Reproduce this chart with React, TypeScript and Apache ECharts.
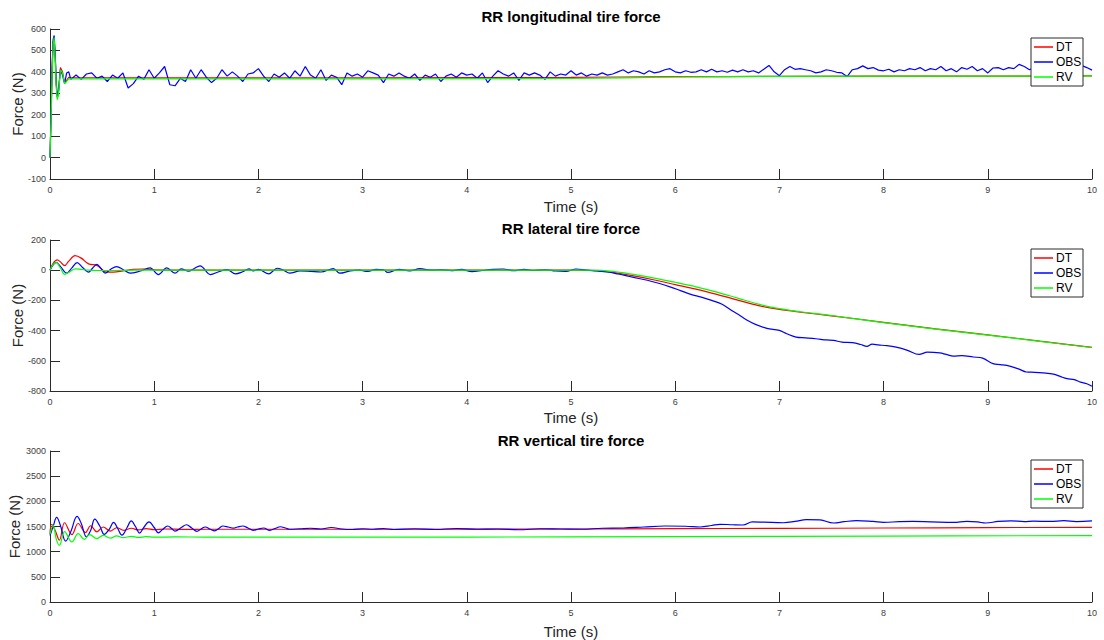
import React, { useEffect, useRef } from "react";
import * as echarts from "echarts";

// ---------- helpers ----------
// evenly spaced sample instants (s)
const grid = (t0: number, dt: number, n: number): number[] =>
  Array.from({ length: n }, (_, i) => Math.round((t0 + i * dt) * 1000) / 1000);
const zip = (ts: number[], vs: number[]) => ts.map((t, i) => [t, vs[i]]);

// ---------- shared ----------
const SERIES_NAMES = ["DT", "OBS", "RV"];
const SERIES_COLORS = ["#ff0000", "#0000ff", "#00ff00"];
const TIME_TICKS = [0, 1, 2, 3, 4, 5, 6, 7, 8, 9, 10];

// ---------- RR longitudinal tire force ----------
const longHeadTime = [0, 0.01, 0.02, 0.03, 0.04, 0.05, 0.06, 0.07, 0.08, 0.1, 0.12, 0.14, 0.16, 0.18];
const longDTHead = [0, 180, 400, 540, 555, 470, 340, 280, 300, 420, 400, 350, 360, 375];
const longRVHead = [0, 170, 390, 530, 560, 460, 330, 270, 290, 410, 395, 345, 355, 368];
const longOBSHead = [0, 200, 420, 550, 570, 480, 350, 285, 300, 410, 385, 345, 395, 400];
const longBodyTime = [0.2, 1, 2, 3, 4, 5, 5.5, 6, 6.5, 7, 8, 9, 10];
const longDTBody = [373, 372, 372, 372, 373, 374, 376, 378, 378, 379, 380, 380, 381];
const longRVBody = [367, 367, 367, 367, 368, 369, 372, 376, 378, 379, 380, 380, 381];
const longOBSBodyTime = grid(0.2, 0.05, 197);
const longOBSBody = [
  365, 385, 365, 390, 395, 370, 380, 355, 385, 370, 395, 325, 345, 380, 365, 410, 370, 395, 425, 340,
  335, 370, 355, 410, 370, 410, 375, 350, 370, 410, 380, 400, 380, 355, 390, 395, 415, 380, 355, 390,
  375, 395, 370, 405, 380, 425, 385, 370, 410, 360, 385, 375, 340, 395, 380, 390, 375, 405, 395, 385,
  350, 390, 380, 395, 380, 370, 390, 360, 385, 375, 390, 355, 380, 390, 375, 395, 385, 390, 370, 395,
  350, 380, 405, 390, 380, 395, 360, 395, 385, 395, 385, 365, 400, 380, 390, 385, 405, 385, 395, 380,
  390, 385, 395, 385, 390, 400, 410, 395, 405, 400, 390, 405, 395, 400, 410, 415, 400, 395, 405, 398,
  400, 410, 400, 412, 400, 405, 398, 408, 400, 410, 400, 405, 395, 412, 430, 400, 382, 410, 425, 412,
  415, 410, 405, 395, 400, 410, 405, 398, 395, 378, 410, 415, 428, 415, 420, 408, 405, 412, 400, 410,
  405, 415, 410, 420, 405, 415, 410, 425, 405, 415, 400, 420, 412, 425, 405, 415, 395, 418, 420, 410,
  420, 415, 435, 425, 410, 420, 430, 425, 440, 420, 430, 425, 435, 425, 430, 420, 408,
];
const longTicks = [-100, 0, 100, 200, 300, 400, 500, 600];

// ---------- RR lateral tire force ----------
const latDTTime = [
  0, 0.03, 0.07, 0.1, 0.14, 0.18, 0.24, 0.3, 0.37, 0.45, 0.5, 0.54, 0.61, 0.7, 0.8, 0.9, 1.0, 1.5, 2, 3, 4, 5,
  5.2, 5.4, 5.6, 5.8, 6.0, 6.2, 6.4, 6.6, 6.8, 7.0, 7.2, 7.5, 8, 8.5, 9, 9.5, 10,
];
const latDT = [
  0, 45, 68, 55, 30, 60, 96, 80, 42, 32, 5, -13, -13, -5, 5, 8, 2, 0, 0, 0, 0, 0,
  -2, -15, -38, -65, -95, -125, -160, -198, -235, -260, -278, -302, -345, -388, -428, -470, -511,
];
const latRVTime = [
  0, 0.03, 0.06, 0.1, 0.14, 0.19, 0.24, 0.3, 0.37, 0.45, 0.6, 0.8, 1.0, 2, 3, 4, 5,
  5.2, 5.4, 5.6, 5.8, 6.0, 6.2, 6.4, 6.6, 6.8, 7.0, 7.2, 7.5, 8, 8.5, 9, 9.5, 10,
];
const latRV = [
  0, 38, 50, 15, -27, -10, 9, 5, 0, -2, -2, 0, 0, 0, 0, 0, 0,
  0, -8, -28, -52, -80, -110, -145, -185, -225, -255, -275, -300, -347, -390, -430, -471, -512,
];
const latOBSTime = [
  0, 0.03, 0.06, 0.1, 0.16, 0.21, 0.26, 0.31, 0.37, 0.41, 0.45, 0.49, 0.53, 0.58, 0.64, 0.7, 0.77, 0.86, 0.96,
  1.04, 1.12, 1.2, 1.26, 1.33, 1.38, 1.44, 1.54, 1.62, 1.7, 1.78, 1.85, 1.91, 1.95, 2.0, 2.1, 2.18, 2.24, 2.3,
  2.4, 2.5, 2.6, 2.72, 2.78, 2.88, 2.97, 3.05, 3.13, 3.2, 3.24, 3.35, 3.45, 3.55, 3.65, 3.75, 3.85, 3.95, 4.05,
  4.15, 4.25, 4.35, 4.45, 4.55, 4.65, 4.75, 4.85, 4.95, 5.05, 5.15, 5.25, 5.35, 5.45, 5.55, 5.65, 5.75, 5.85,
  5.95, 6.05, 6.15, 6.25, 6.35, 6.45, 6.55, 6.62, 6.7, 6.77, 6.88, 7.0, 7.07, 7.16, 7.25, 7.35, 7.45, 7.52, 7.6,
  7.7, 7.78, 7.84, 7.89, 7.95, 8.03, 8.12, 8.23, 8.34, 8.42, 8.54, 8.6, 8.67, 8.75, 8.86, 8.95, 9.05, 9.12, 9.21,
  9.3, 9.37, 9.45, 9.53, 9.63, 9.7, 9.76, 9.83, 9.89, 9.95, 10,
];
const latOBS = [
  0, 35, 52, 25, -20, 15, 50, 20, -13, 15, 38, 10, -20, 5, 24, 5, -20, -7, 15,
  -29, 15, -20, 9, -7, 10, 29, -29, -10, 4, -24, -10, 9, -5, 5, -24, 13, 0, -20,
  -5, -8, -12, 11, -20, -5, 0, -8, 5, 3, -15, 5, -5, 10, 0, 3, -3, 5, -10,
  -2, 5, 8, -3, 5, -2, 3, -5, -8, 8, 0, -5, -12, -25, -40, -55, -70, -88,
  -110, -135, -160, -178, -200, -225, -270, -300, -335, -359, -385, -399, -421, -443, -448, -454, -462, -465, -476,
  -480, -492, -505, -490, -495, -500, -510, -531, -558, -543, -548, -558, -569, -566, -575, -582, -619, -625, -635,
  -655, -674, -676, -680, -688, -705, -718, -725, -741, -752, -769,
];
const latTicks = [-800, -600, -400, -200, 0, 200];

// ---------- RR vertical tire force ----------
const vertDTTime = [
  0, 0.016, 0.05, 0.09, 0.14, 0.21, 0.27, 0.34, 0.39, 0.45, 0.51, 0.58, 0.64, 0.71, 0.78, 0.85, 0.92, 1.0, 1.1,
  1.3, 1.5, 2, 3, 4, 5, 6, 7, 8, 9, 10,
];
const vertDT = [
  1350, 1545, 1420, 1230, 1575, 1340, 1560, 1380, 1515, 1395, 1490, 1410, 1475, 1425, 1465, 1432, 1458, 1438, 1450,
  1443, 1445, 1445, 1445, 1446, 1450, 1458, 1462, 1470, 1478, 1484,
];
const vertRVTime = [
  0, 0.03, 0.06, 0.09, 0.14, 0.21, 0.27, 0.33, 0.38, 0.45, 0.51, 0.58, 0.64, 0.7, 0.78, 0.85, 0.92, 1.0, 1.2,
  1.5, 2, 4, 6, 8, 10,
];
const vertRV = [
  1350, 1524, 1250, 1127, 1400, 1192, 1358, 1245, 1340, 1260, 1325, 1270, 1315, 1278, 1305, 1283, 1298, 1287, 1293,
  1290, 1290, 1290, 1298, 1310, 1320,
];
const vertOBSTime = [
  0, 0.03, 0.064, 0.1, 0.15, 0.2, 0.26, 0.3, 0.35, 0.39, 0.43, 0.48, 0.52, 0.57, 0.61, 0.65, 0.69, 0.74, 0.78,
  0.82, 0.86, 0.9, 0.95, 1.0, 1.04, 1.08, 1.13, 1.17, 1.2, 1.26, 1.31, 1.36, 1.41, 1.45, 1.49, 1.54, 1.58, 1.62,
  1.66, 1.71, 1.76, 1.8, 1.85, 1.9, 1.95, 2.0, 2.05, 2.11, 2.16, 2.21, 2.26, 2.3, 2.4, 2.5, 2.6, 2.7, 2.8, 2.9,
  3.0, 3.1, 3.2, 3.3, 3.5, 3.7, 3.9, 4.1, 4.3, 4.5, 4.7, 4.9, 5.1, 5.3, 5.5, 5.7, 5.9, 6.1, 6.24, 6.35, 6.43,
  6.55, 6.65, 6.74, 6.85, 7.04, 7.15, 7.26, 7.39, 7.52, 7.62, 7.74, 7.9, 8.0, 8.15, 8.28, 8.45, 8.67, 8.8, 8.9,
  8.98, 9.1, 9.22, 9.35, 9.44, 9.6, 9.73, 9.85, 10,
];
const vertOBS = [
  1320, 1500, 1680, 1520, 1210, 1400, 1700, 1560, 1295, 1420, 1645, 1500, 1345, 1450, 1580, 1460, 1330, 1480, 1610,
  1500, 1370, 1480, 1590, 1480, 1375, 1440, 1510, 1455, 1410, 1480, 1535, 1470, 1405, 1450, 1490, 1445, 1415, 1460,
  1510, 1490, 1468, 1490, 1510, 1470, 1425, 1450, 1470, 1425, 1460, 1495, 1470, 1445, 1455, 1465, 1450, 1480, 1450, 1440,
  1455, 1445, 1460, 1440, 1455, 1440, 1460, 1445, 1450, 1435, 1455, 1450, 1445, 1465, 1470, 1490, 1510, 1505, 1490, 1520, 1544,
  1535, 1530, 1590, 1585, 1575, 1600, 1637, 1630, 1570, 1595, 1617, 1600, 1583, 1595, 1600, 1592, 1580, 1600, 1590,
  1570, 1600, 1612, 1598, 1605, 1600, 1615, 1598, 1610,
];
const vertTicks = [0, 500, 1000, 1500, 2000, 2500, 3000];

// ---------- layout ----------
const FONT = '"Liberation Sans", Arial, Helvetica, sans-serif';
const AXIS_COLOR = "#2b2b2b";
const LABEL_COLOR = "#404040";
const PANELS = [
  { title: "RR longitudinal tire force", top: 29, height: 150, ticks: longTicks, titleY: 16, timeY: 206, forceX: 17.5 },
  { title: "RR lateral tire force", top: 240, height: 151, ticks: latTicks, titleY: 228, timeY: 417, forceX: 17 },
  { title: "RR vertical tire force", top: 451, height: 151, ticks: vertTicks, titleY: 440, timeY: 631, forceX: 14.5 },
];
const PLOT_LEFT = 50;
const PLOT_RIGHT = 1092;
// legend box geometry (px)
const LEGEND_LEFT = 1031;
const LEGEND_W = 52;
const LEGEND_H = 48;
const LEGEND_ROW = 15;

const panelSeries = [
  {
    dt: zip([...longHeadTime, ...longBodyTime], [...longDTHead, ...longDTBody]),
    obs: zip([...longHeadTime, ...longOBSBodyTime], [...longOBSHead, ...longOBSBody]),
    rv: zip([...longHeadTime, ...longBodyTime], [...longRVHead, ...longRVBody]),
    smooth: false,
  },
  { dt: zip(latDTTime, latDT), obs: zip(latOBSTime, latOBS), rv: zip(latRVTime, latRV), smooth: 0.35 },
  { dt: zip(vertDTTime, vertDT), obs: zip(vertOBSTime, vertOBS), rv: zip(vertRVTime, vertRV), smooth: 0.4 },
];

function buildOption() {
  const grids = PANELS.map((p) => ({
    left: PLOT_LEFT,
    width: PLOT_RIGHT - PLOT_LEFT,
    top: p.top,
    height: p.height,
    containLabel: false,
  }));

  const xAxes = PANELS.map((_, i) => ({
    type: "value",
    gridIndex: i,
    min: TIME_TICKS[0],
    max: TIME_TICKS[TIME_TICKS.length - 1],
    interval: 1,
    axisLine: { show: true, onZero: false, lineStyle: { color: AXIS_COLOR, width: 1 } },
    axisTick: { show: true, inside: true, length: 10, lineStyle: { color: AXIS_COLOR } },
    axisLabel: { color: LABEL_COLOR, fontSize: 9, fontFamily: FONT, margin: 6 },
    splitLine: { show: false },
  }));

  const yAxes = PANELS.map((p, i) => ({
    type: "value",
    gridIndex: i,
    min: p.ticks[0],
    max: p.ticks[p.ticks.length - 1],
    interval: p.ticks[1] - p.ticks[0],
    axisLine: { show: true, onZero: false, lineStyle: { color: AXIS_COLOR, width: 1 } },
    axisTick: { show: true, inside: true, length: 10, lineStyle: { color: AXIS_COLOR } },
    axisLabel: {
      color: LABEL_COLOR,
      fontSize: 9,
      fontFamily: FONT,
      margin: 4,
      formatter: (v: number) => String(v),
    },
    splitLine: { show: false },
  }));

  const series: any[] = [];
  panelSeries.forEach((ps, i) => {
    [ps.dt, ps.obs, ps.rv].forEach((data, k) => {
      series.push({
        type: "line",
        name: SERIES_NAMES[k],
        xAxisIndex: i,
        yAxisIndex: i,
        data,
        symbol: "none",
        smooth: ps.smooth,
        z: 2 + k,
        lineStyle: { color: SERIES_COLORS[k], width: 1.2 },
        itemStyle: { color: SERIES_COLORS[k] },
      });
    });
  });

  const graphics: any[] = [];
  PANELS.forEach((p) => {
    graphics.push({
      type: "text",
      x: (PLOT_LEFT + PLOT_RIGHT) / 2,
      y: p.titleY,
      style: { text: p.title, font: `bold 15px ${FONT}`, fill: "#000", align: "center", verticalAlign: "middle" },
    });
    graphics.push({
      type: "text",
      x: (PLOT_LEFT + PLOT_RIGHT) / 2,
      y: p.timeY,
      style: { text: "Time (s)", font: `15px ${FONT}`, fill: "#262626", align: "center", verticalAlign: "middle" },
    });
    graphics.push({
      type: "text",
      x: p.forceX,
      y: p.top + p.height / 2,
      rotation: Math.PI / 2,
      style: { text: "Force (N)", font: `15px ${FONT}`, fill: "#262626", align: "center", verticalAlign: "middle" },
    });

    // legend box, drawn above the traces
    const top = p.top + 9;
    graphics.push({
      type: "rect",
      z: 100,
      shape: { x: LEGEND_LEFT, y: top, width: LEGEND_W, height: LEGEND_H },
      style: { fill: "#fff", stroke: "#2b2b2b", lineWidth: 1 },
    });
    SERIES_NAMES.forEach((name, k) => {
      const cy = top + 9 + k * LEGEND_ROW;
      graphics.push({
        type: "line",
        z: 101,
        shape: { x1: LEGEND_LEFT + 3, y1: cy, x2: LEGEND_LEFT + 22, y2: cy },
        style: { stroke: SERIES_COLORS[k], lineWidth: 1.5 },
      });
      graphics.push({
        type: "text",
        z: 101,
        x: LEGEND_LEFT + 25,
        y: cy,
        style: { text: name, font: `12px ${FONT}`, fill: "#000", align: "left", verticalAlign: "middle" },
      });
    });
  });

  return {
    animation: false,
    backgroundColor: "#ffffff",
    grid: grids,
    xAxis: xAxes,
    yAxis: yAxes,
    series,
    graphic: graphics,
  };
}

export default function App() {
  const ref = useRef<HTMLDivElement>(null);
  useEffect(() => {
    if (!ref.current) return;
    const chart = echarts.init(ref.current, undefined, { renderer: "svg" });
    chart.setOption(buildOption() as any);
    return () => chart.dispose();
  }, []);
  return (
    <div
      ref={ref}
      style={{ position: "fixed", left: 0, top: 0, width: 1104, height: 640, background: "#fff" }}
    />
  );
}
